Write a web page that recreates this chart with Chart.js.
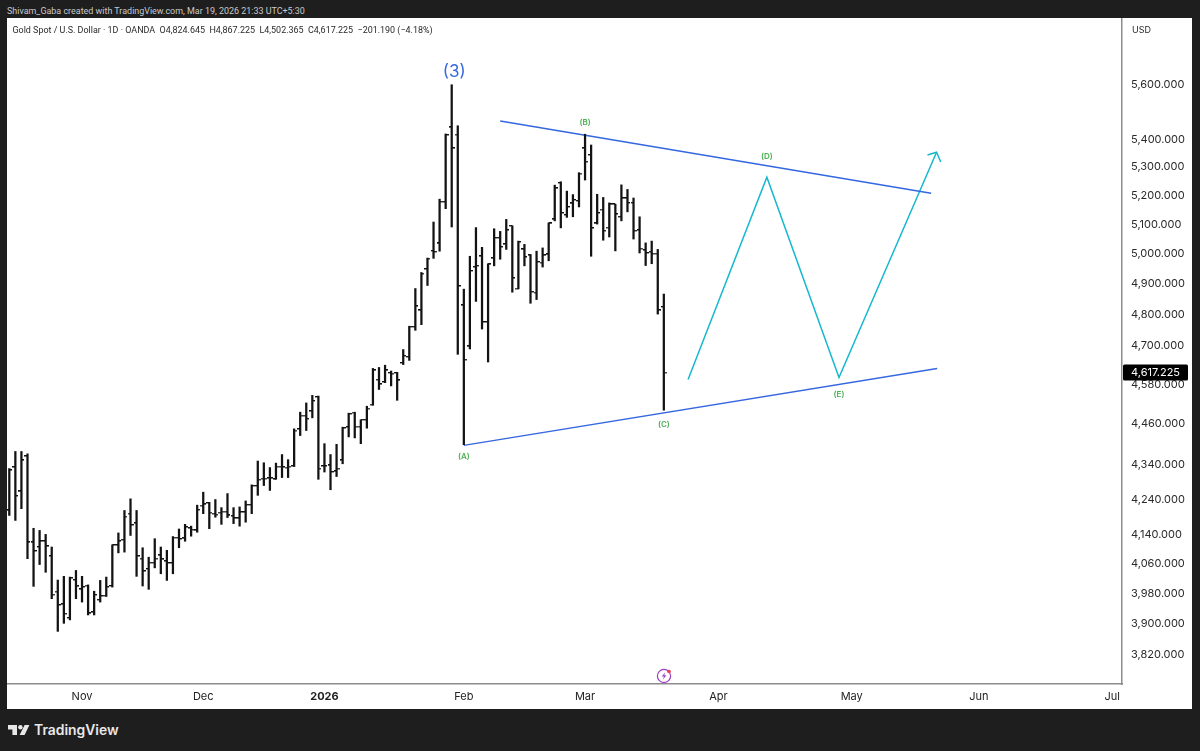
<!DOCTYPE html>
<html>
<head>
<meta charset="utf-8">
<title>Gold Spot / U.S. Dollar</title>
<script src="https://cdn.jsdelivr.net/npm/chart.js@4"></script>
<style>
html, body { margin: 0; padding: 0; width: 1200px; height: 751px; overflow: hidden; background: #1e1e1e; font-family: Inter, sans-serif; }
#chart { position: absolute; left: 7px; top: 18px; background: #fff; }
.txt { position: absolute; white-space: pre; }
#credit { left: 7px; top: 5px; font-family: Roboto, sans-serif; font-size: 8.95px; line-height: 12px; color: #c9c9c9; }
#legend { left: 12.5px; top: 24px; font-family: Roboto, sans-serif; font-size: 8.95px; line-height: 12px; color: #2a2a2a; }
#usd { left: 1132px; top: 24px; font-size: 9px; line-height: 12px; color: #2a2a2a; }
#brand { left: 34px; top: 720px; font-size: 13.9px; line-height: 20px; font-weight: 600; color: #e8e8e8; }
svg { position: absolute; }
</style>
</head>
<body>
<canvas id="chart" width="1185" height="691"></canvas>
<div class="txt" id="credit">Shivam_Gaba created with TradingView.com, Mar 19, 2026 21:33 UTC+5:30</div>
<div class="txt" id="legend">Gold Spot / U.S. Dollar · 1D · OANDA  O4,824.645  H4,867.225  L4,502.365  C4,617.225  −201.190 (−4.18%)</div>
<div class="txt" id="usd">USD</div>
<svg style="left:655px;top:666px" width="20" height="20" viewBox="0 0 20 20">
  <circle cx="9" cy="10" r="6.6" fill="#fff" stroke="#9c3fc0" stroke-width="1.2"/>
  <path d="M10.2 6.2 L6.8 10.6 H9 L7.8 13.8 L11.4 9.2 H9.2 Z" fill="#9c3fc0"/>
  <circle cx="14" cy="5.5" r="1.8" fill="#ee3a4a"/>
</svg>
<svg style="left:8px;top:724px" width="22" height="12" viewBox="0 0 22 12">
  <path d="M0 1 H9 V11 H4.4 V5.6 H0 Z" fill="#e8e8e8"/>
  <circle cx="12.4" cy="3.2" r="2.2" fill="#e8e8e8"/>
  <path d="M16.6 1 H21.4 L16.6 11 H11.6 Z" fill="#e8e8e8"/>
</svg>
<div class="txt" id="brand">TradingView</div>
<script>
const opens = [4209,4333,4263,4365,4120,4107,4123,4082,3986,3952,3916,4017,3992,4002,3931,3964,3975,4001,4112,4127,4200,4173,4075,4047,4064,4084,4068,4063,4133,4131,4159,4153,
  4223,4230,4200,4203,4206,4193,4187,4204,4225,4279,4300,4301,4298,4335,4332,4336,4445,4486,4499,4542,4336,4338,4321,4353,4451,4495,4453,4473,4519,4595,
  4588,4616,4616,4647,4666,4761,4814,4949,5010,5035,5178,5443,5417,4830,4699,4956,4992,4776,4985,5054,5032,5095,4885,
  5015,4995,4872,4971,4998,5117,5244,5132,5172,5181,5367,5343,5103,5151,5089,5169,5126,5190,5174,5080,5012,5007,5001,4825];
const highs = [4329,4379,4379,4372,4159,4153,4142,4107,4017,4027,4025,4043,4027,4004,3987,4016,4025,4113,4146,4209,4242,4209,4105,4079,4130,4107,4098,4136,4157,4170,4165,4224,
  4261,4232,4240,4217,4257,4217,4219,4236,4282,4351,4346,4332,4345,4370,4355,4446,4496,4524,4547,4545,4402,4370,4400,4451,4493,4496,4473,4514,4630,4633,
  4640,4622,4618,4689,4763,4885,4938,4986,5108,5187,5419,5601,5449,4883,4992,5089,5022,4967,5085,5076,5117,5095,5043,
  5032,4998,5009,5020,5105,5236,5248,5215,5203,5280,5418,5379,5204,5193,5174,5169,5237,5221,5191,5126,5037,5043,5015,4867];
const lows = [4195,4181,4214,4075,4000,4059,4038,3967,3881,3902,3911,3967,3958,3924,3924,3958,3973,3998,4091,4093,4139,4027,4001,3992,4050,4034,4016,4034,4105,4123,4137,4148,
  4200,4158,4190,4170,4189,4172,4165,4176,4200,4252,4280,4266,4298,4303,4303,4335,4426,4441,4479,4298,4319,4268,4306,4343,4422,4419,4402,4448,4517,4565,
  4586,4576,4532,4642,4655,4750,4768,4895,4985,5009,5154,5091,4674,4399,4691,4843,4754,4650,4960,4982,5015,4873,4884,
  4960,4837,4849,4956,4977,5112,5088,5124,5126,5160,5254,4992,5101,5046,5057,5010,5112,5143,5050,5003,4961,4967,4802,4502];
const closes = [4324,4250,4353,4120,4096,4123,4109,3978,3950,3927,4022,4000,3998,3928,3977,3974,3998,4112,4123,4192,4168,4082,4041,4064,4075,4073,4063,4133,4129,4162,4155,4211,
  4226,4203,4197,4206,4195,4187,4204,4225,4279,4297,4300,4301,4335,4333,4335,4441,4486,4476,4530,4329,4336,4319,4329,4448,4491,4453,4473,4507,4624,4581,
  4624,4614,4593,4669,4761,4827,4934,4984,5007,5178,5415,5367,4893,4657,4943,4960,4776,4965,5054,5023,5080,4919,5040,
  4989,4874,4973,4995,5103,5225,5139,5160,5184,5277,5319,5087,5139,5078,5169,5135,5190,5174,5078,5018,5003,5001,4814,4617.225];

const priceTicks = [5600,5400,5300,5200,5100,5000,4900,4800,4700,4580,4460,4340,4240,4140,4060,3980,3900,3820];
const timeTicks = [12,32,52,75,95,117,139,160,182];
const timeLabels = ['Nov','Dec','2026','Feb','Mar','Apr','May','Jun','Jul'];

const upperLine = [{x:81,y:5466},{x:152.1,y:5208}];
const lowerLine = [{x:75,y:4397},{x:153.1,y:4630}];
const projection = [{x:112,y:4596},{x:125,y:5264},{x:136.9,y:4602},{x:153,y:5353}];
const arrowHead = [{x:151.5,y:5343},{x:153,y:5353},{x:153.7,y:5318}];

const waveTexts = ['(3)','(A)','(B)','(C)','(D)','(E)'];
const waveIdx = [73.4,75,95,108,125,136.9];
const wavePrices = [5649,4365,5459,4459,5336,4550];

const BAR_COLOR = '#131313';
const LINE_BLUE = '#3567e0';
const LINE_CYAN = '#16b8cf';
const WAVE_GREEN = '#4caf50';
const AXIS_GREY = '#8c8c8c';
const AXIS_FONT = { family: 'Inter', size: 11 };

// little canvases used as point styles: open tick to the left, close tick to the right
function tickMark(side) {
    const c = document.createElement('canvas');
    c.width = 6;
    c.height = 2;
    const g = c.getContext('2d');
    g.fillStyle = BAR_COLOR;
    g.fillRect(side === 'left' ? 0 : 3, 0, 3, 1.4);
    return c;
}

function lineSet(points, color) {
    return {
        type: 'line',
        data: points,
        borderColor: color,
        borderWidth: 1.5,
        pointRadius: 0,
        fill: false,
        tension: 0,
    };
}

function tickSet(values, side) {
    return {
        type: 'line',
        data: values.map((v, i) => ({ x: i, y: v })),
        showLine: false,
        pointStyle: tickMark(side),
        pointRadius: 3,
    };
}

const annotations = {
    id: 'annotations',
    afterDraw(chart) {
        const { ctx, scales: { x, y } } = chart;
        ctx.save();
        ctx.textAlign = 'center';
        ctx.textBaseline = 'middle';
        waveTexts.forEach((t, i) => {
            const big = t === '(3)';
            ctx.font = big ? '17px Inter' : '600 8px Inter';
            ctx.fillStyle = big ? LINE_BLUE : WAVE_GREEN;
            ctx.fillText(t, x.getPixelForValue(waveIdx[i]), y.getPixelForValue(wavePrices[i]));
        });

        // last price tag on the axis
        const last = closes[closes.length - 1];
        const py = y.getPixelForValue(last);
        ctx.fillStyle = '#000';
        ctx.beginPath();
        ctx.roundRect(x.right + 1, py - 8, 65, 16, 1.5);
        ctx.fill();
        ctx.fillStyle = '#fff';
        ctx.font = '11px Inter';
        ctx.textAlign = 'left';
        ctx.fillText(last.toLocaleString('en-US', { minimumFractionDigits: 3 }), x.right + 9, py + 0.5);
        ctx.restore();
    }
};

new Chart(document.getElementById('chart'), {
    data: {
        datasets: [
            {
                type: 'bar',
                data: highs.map((h, i) => ({ x: i, y: [lows[i], h] })),
                backgroundColor: BAR_COLOR,
                barThickness: 1.6,
                grouped: false,
            },
            tickSet(opens, 'left'),
            tickSet(closes, 'right'),
            lineSet(upperLine, LINE_BLUE),
            lineSet(lowerLine, LINE_BLUE),
            lineSet(projection, LINE_CYAN),
            lineSet(arrowHead, LINE_CYAN),
        ]
    },
    options: {
        responsive: false,
        animation: false,
        layout: { autoPadding: false },
        plugins: {
            legend: { display: false },
            tooltip: { enabled: false },
        },
        scales: {
            x: {
                type: 'linear',
                offset: false,
                min: -0.38,
                max: 183.6,
                grid: { display: false, drawTicks: false },
                border: { display: true, color: AXIS_GREY, width: 1.5 },
                afterBuildTicks: axis => { axis.ticks = timeTicks.map(value => ({ value })); },
                afterFit: axis => {
                    axis.height = 25;
                    axis.paddingLeft = 0;
                    axis.paddingRight = 0;
                },
                ticks: {
                    autoSkip: false,
                    maxRotation: 0,
                    padding: 6,
                    color: '#222',
                    font: ctx => ctx.index === 2 ? { ...AXIS_FONT, weight: '700' } : AXIS_FONT,
                    callback: (v, i) => timeLabels[i],
                },
            },
            y: {
                type: 'logarithmic',
                position: 'right',
                min: 3746.3,
                max: 5857.6,
                grid: { display: false, drawTicks: false },
                border: { display: true, color: AXIS_GREY, width: 1.5 },
                afterBuildTicks: axis => { axis.ticks = priceTicks.map(value => ({ value })); },
                afterFit: axis => {
                    axis.width = 70;
                    axis.paddingTop = 0;
                    axis.paddingBottom = 0;
                },
                ticks: {
                    autoSkip: false,
                    padding: 9,
                    color: '#2a2a2a',
                    font: AXIS_FONT,
                    callback: v => v.toLocaleString('en-US', { minimumFractionDigits: 3 }),
                },
            },
        },
    },
    plugins: [annotations],
});
</script>
</body>
</html>
